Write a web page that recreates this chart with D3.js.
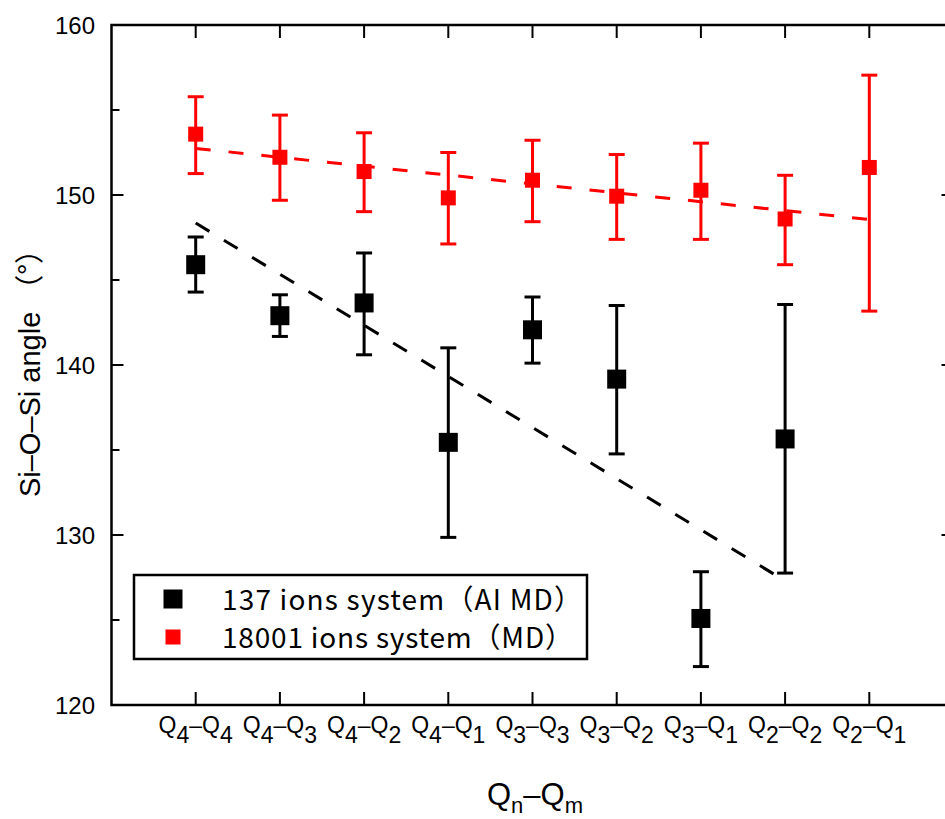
<!DOCTYPE html>
<html>
<head>
<meta charset="utf-8">
<script src="https://cdn.jsdelivr.net/npm/d3@7"></script>
<style>
  body { margin: 0; background: #fff; }
  svg { display: block; }
</style>
</head>
<body>
<svg id="chart"></svg>
<script>
// subscripts of the Q_n - Q_m pair categories
const catN = [4, 4, 4, 4, 3, 3, 3, 2, 2];
const catM = [4, 3, 2, 1, 3, 2, 1, 2, 1];

// 137 ions system (AI MD)
const aiMean = [145.9, 142.9, 143.65, 135.45, 142.07, 139.17, 125.09, 135.65];
const aiHigh = [147.53, 144.13, 146.59, 141.01, 144.0, 143.5, 127.84, 143.56];
const aiLow  = [144.29, 141.68, 140.6, 129.86, 140.11, 134.77, 122.26, 127.76];
const aiTrend = [[0, 148.35], [7, 127.3]];

// 18001 ions system (MD)
const mdMean = [153.58, 152.22, 151.38, 149.83, 150.87, 149.93, 150.28, 148.59, 151.62];
const mdHigh = [155.78, 154.70, 153.66, 152.50, 153.22, 152.38, 153.05, 151.16, 157.05];
const mdLow  = [151.26, 149.69, 149.02, 147.12, 148.43, 147.39, 147.39, 145.90, 143.17];
const mdTrend = [[0, 152.74], [8, 148.56]];

const yTicks = [120, 130, 140, 150, 160];
const yMinor = [125, 135, 145, 155];

const width = 945, height = 819;
const svg = d3.select("#chart").attr("width", width).attr("height", height);

const x = d3.scaleLinear([-1, 9], [111.5, 953.5]);
const y = d3.scaleLinear([120, 160], [705, 25]);

const font = "'Liberation Sans', Arial, sans-serif";
const jp = "'Noto Sans CJK JP', sans-serif";

const series = [
  {name: "137 ions system（AI MD）", color: "#000", mean: aiMean, hi: aiHigh, lo: aiLow, trend: aiTrend, size: 19, textLen: 360},
  {name: "18001 ions system（MD）", color: "#ff0000", mean: mdMean, hi: mdHigh, lo: mdLow, trend: mdTrend, size: 15, textLen: 351}
];

// trend lines
const line = d3.line().x(d => x(d[0])).y(d => y(d[1]));
series.forEach(s => {
  svg.append("path")
      .attr("d", line(s.trend))
      .attr("fill", "none")
      .attr("stroke", s.color)
      .attr("stroke-width", 3)
      .attr("stroke-dasharray", s.color === "#000" ? "16,17" : "15,18");
});

// error bars + markers
series.forEach(s => {
  const g = svg.append("g").attr("stroke", s.color).attr("stroke-width", 3);
  const idx = d3.range(s.mean.length);
  g.selectAll("line.bar").data(idx).join("line")
      .attr("x1", i => x(i)).attr("x2", i => x(i))
      .attr("y1", i => y(s.hi[i])).attr("y2", i => y(s.lo[i]));
  g.selectAll("line.hi").data(idx).join("line")
      .attr("x1", i => x(i) - 8).attr("x2", i => x(i) + 8)
      .attr("y1", i => y(s.hi[i])).attr("y2", i => y(s.hi[i]));
  g.selectAll("line.lo").data(idx).join("line")
      .attr("x1", i => x(i) - 8).attr("x2", i => x(i) + 8)
      .attr("y1", i => y(s.lo[i])).attr("y2", i => y(s.lo[i]));
  svg.append("g").selectAll("rect").data(idx).join("rect")
      .attr("x", i => x(i) - s.size / 2)
      .attr("y", i => y(s.mean[i]) - s.size / 2)
      .attr("width", s.size).attr("height", s.size)
      .attr("fill", s.color);
});

// frame
svg.append("rect")
    .attr("x", x(-1)).attr("y", y(160))
    .attr("width", x(9) - x(-1)).attr("height", y(120) - y(160))
    .attr("fill", "none").attr("stroke", "#000").attr("stroke-width", 2.5);

// y ticks (inward, both sides)
const yt = svg.append("g").attr("stroke", "#000").attr("stroke-width", 2);
[[yTicks, 12], [yMinor, 8]].forEach(([ticks, len]) => {
  ticks.forEach(v => {
    yt.append("line").attr("x1", x(-1)).attr("x2", x(-1) + len).attr("y1", y(v)).attr("y2", y(v));
    yt.append("line").attr("x1", x(9)).attr("x2", x(9) - len).attr("y1", y(v)).attr("y2", y(v));
  });
});
svg.append("g").selectAll("text").data(yTicks).join("text")
    .attr("x", 95).attr("y", d => y(d) + 9)
    .attr("text-anchor", "end")
    .attr("font-family", font).attr("font-size", 24)
    .text(d => d);

// x ticks (inward, top and bottom)
const xt = svg.append("g").attr("stroke", "#000").attr("stroke-width", 2);
catN.forEach((n, i) => {
  xt.append("line").attr("x1", x(i)).attr("x2", x(i)).attr("y1", y(120)).attr("y2", y(120) - 13);
  xt.append("line").attr("x1", x(i)).attr("x2", x(i)).attr("y1", y(160)).attr("y2", y(160) + 13);
});
const xl = svg.append("g").selectAll("text").data(catN).join("text")
    .attr("x", (d, i) => x(i)).attr("y", 733)
    .attr("text-anchor", "middle")
    .attr("font-family", font).attr("font-size", 23);
xl.append("tspan").text("Q");
xl.append("tspan").attr("dy", 10).text(d => d);
xl.append("tspan").attr("dy", -10).text("–Q");
xl.append("tspan").attr("dy", 10).text((d, i) => catM[i]);

// axis titles
const xTitle = svg.append("text")
    .attr("x", 535).attr("y", 805)
    .attr("text-anchor", "middle")
    .attr("font-family", font).attr("font-size", 31);
xTitle.append("tspan").text("Q");
xTitle.append("tspan").attr("dy", 8).attr("font-size", 22).text("n");
xTitle.append("tspan").attr("dy", -8).text("–Q");
xTitle.append("tspan").attr("dy", 8).attr("font-size", 22).text("m");

const yTitle = svg.append("text")
    .attr("transform", "translate(40,366) rotate(-90)")
    .attr("text-anchor", "middle")
    .attr("font-family", font).attr("font-size", 29);
yTitle.append("tspan").text("Si–O–Si angle ");
yTitle.append("tspan").attr("font-family", jp).text("（°）");

// legend
const lg = svg.append("g");
lg.append("rect")
    .attr("x", 134).attr("y", 575).attr("width", 453).attr("height", 84)
    .attr("fill", "#fff").attr("stroke", "#000").attr("stroke-width", 2.5);
series.forEach((s, i) => {
  const cy = 599 + i * 38;
  lg.append("rect")
      .attr("x", 173 - s.size / 2).attr("y", cy - s.size / 2)
      .attr("width", s.size).attr("height", s.size)
      .attr("fill", s.color);
  lg.append("text")
      .attr("x", 222).attr("y", cy + 11)
      .attr("font-family", jp).attr("font-size", 28)
      .attr("textLength", s.textLen).attr("lengthAdjust", "spacing")
      .text(s.name);
});
</script>
</body>
</html>
